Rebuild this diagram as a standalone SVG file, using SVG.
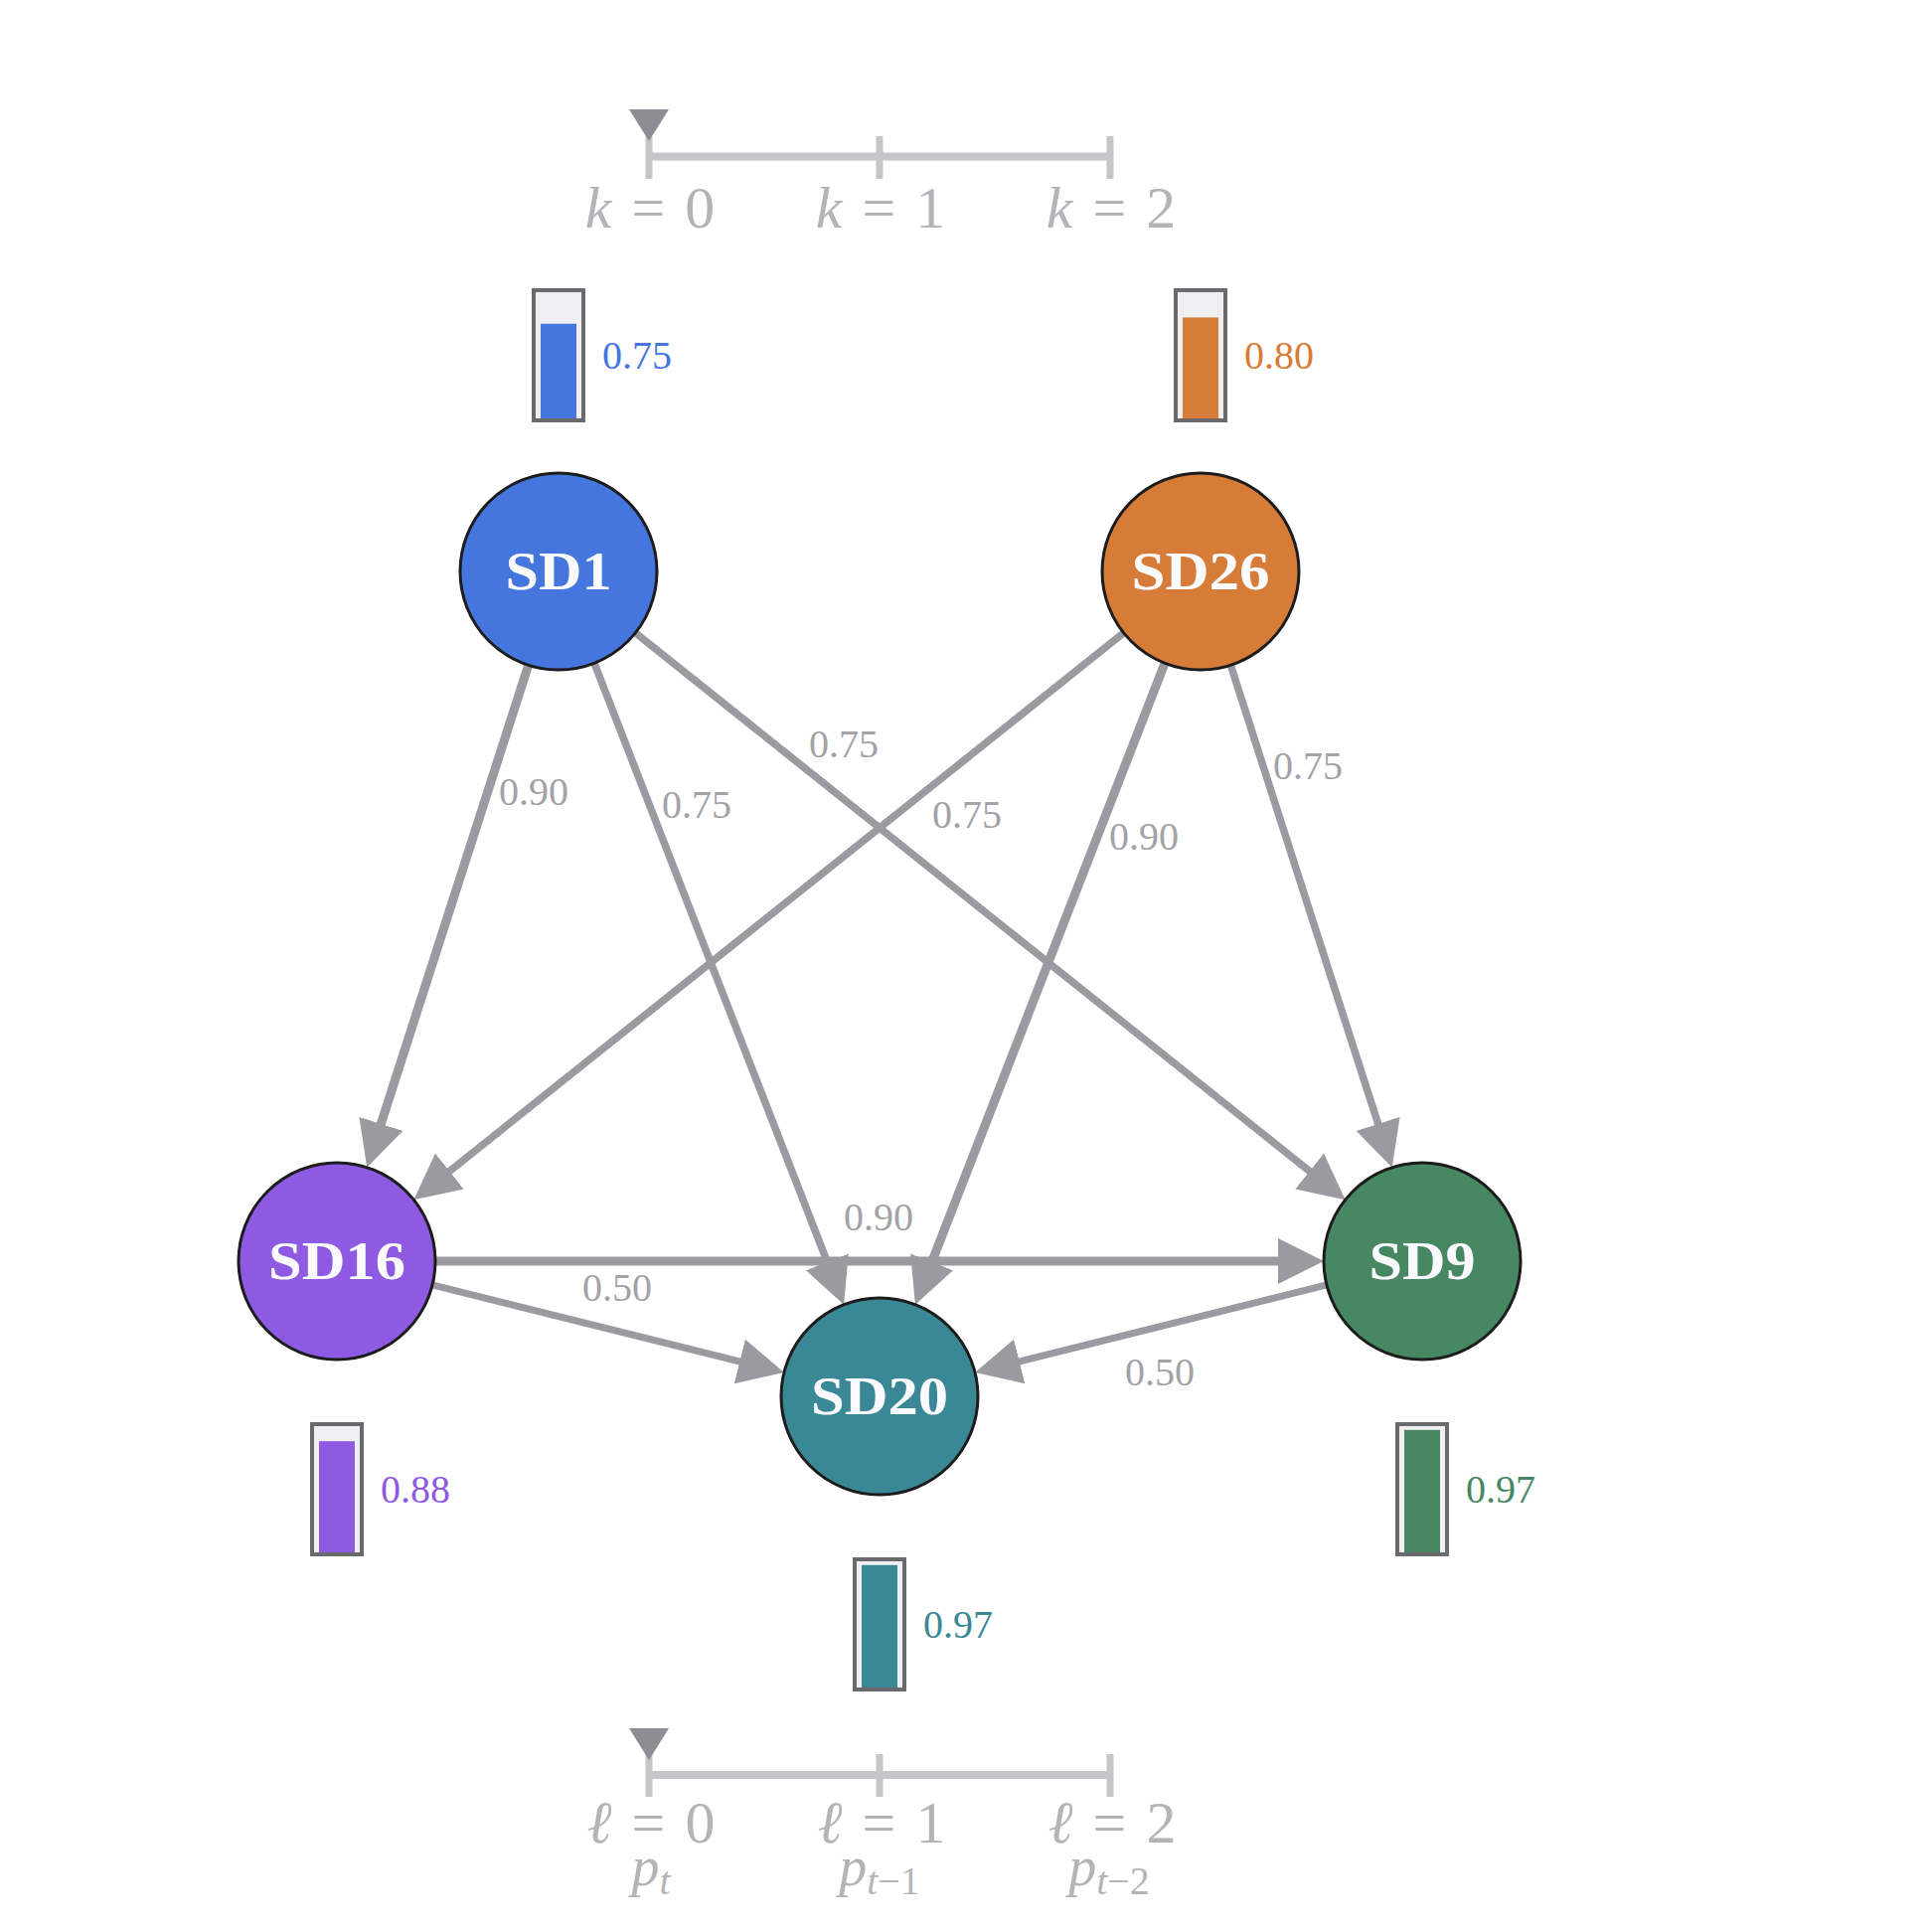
<svg xmlns="http://www.w3.org/2000/svg" width="1944" height="1942" viewBox="0 0 1944 1942">
<defs>
<style>
.edge{stroke:#9a9aa0;fill:none;stroke-linecap:butt}
.w90{stroke-width:9}
.w75{stroke-width:7.5}
.w50{stroke-width:7}
.elbl{font-family:"Liberation Serif","DejaVu Serif",serif;font-size:40px;fill:#a2a2a7;text-anchor:middle}
.lblbg{fill:#ffffff;fill-opacity:0.85}
.node{stroke:#1c1c1c;stroke-width:3}
.ntxt{font-family:"Liberation Serif","DejaVu Serif",serif;font-weight:bold;font-size:54px;fill:#fbfbff;text-anchor:middle}
.barbox{fill:#f0f0f3;stroke:#6a6a6e;stroke-width:4}
.bval{font-family:"Liberation Serif","DejaVu Serif",serif;font-size:40px}
.axis{stroke:#c6c6ca;stroke-width:8;fill:none}
.tick{stroke:#c6c6ca;stroke-width:7;fill:none}
.ptr{fill:#8d8d93}
.albl{font-family:"Liberation Serif","DejaVu Serif",serif;font-size:60px;fill:#b4b4b8;text-anchor:middle}
.plbl{font-family:"Liberation Serif","DejaVu Serif",serif;font-size:56px;fill:#b4b4b8;text-anchor:middle}
</style>
<marker id="ah" markerUnits="userSpaceOnUse" markerWidth="46" markerHeight="46" viewBox="0 0 46 46" refX="21" refY="23" orient="auto">
<path d="M0,0 L46,23 L0,46 z" fill="#9a9aa0"/>
</marker>
</defs>
<rect width="1944" height="1942" fill="#ffffff"/>

<g id="axis-top">
<line class="axis" x1="653" y1="157.5" x2="1117" y2="157.5"/>
<line class="tick" x1="653" y1="137" x2="653" y2="180"/>
<line class="tick" x1="885" y1="137" x2="885" y2="180"/>
<line class="tick" x1="1117" y1="137" x2="1117" y2="180"/>
<polygon class="ptr" points="633,110 673,110 653,142"/>
<text class="albl" x="654" y="229" word-spacing="5"><tspan font-style="italic">k</tspan> = 0</text>
<text class="albl" x="886" y="229" word-spacing="5"><tspan font-style="italic">k</tspan> = 1</text>
<text class="albl" x="1118" y="229" word-spacing="5"><tspan font-style="italic">k</tspan> = 2</text>
</g>

<g id="axis-bottom">
<line class="axis" x1="653" y1="1786" x2="1117" y2="1786"/>
<line class="tick" x1="653" y1="1765" x2="653" y2="1808"/>
<line class="tick" x1="885" y1="1765" x2="885" y2="1808"/>
<line class="tick" x1="1117" y1="1765" x2="1117" y2="1808"/>
<polygon class="ptr" points="633,1739 673,1739 653,1771"/>
<text class="albl" x="655" y="1854" word-spacing="5"><tspan font-style="italic">ℓ</tspan> = 0</text>
<text class="albl" x="887" y="1854" word-spacing="5"><tspan font-style="italic">ℓ</tspan> = 1</text>
<text class="albl" x="1119" y="1854" word-spacing="5"><tspan font-style="italic">ℓ</tspan> = 2</text>
<text class="plbl" x="655" y="1897"><tspan font-style="italic">p</tspan><tspan font-style="italic" font-size="40" dy="9">t</tspan></text>
<text class="plbl" x="885" y="1897"><tspan font-style="italic">p</tspan><tspan font-style="italic" font-size="40" dy="9">t</tspan><tspan font-size="40">−1</tspan></text>
<text class="plbl" x="1116" y="1897"><tspan font-style="italic">p</tspan><tspan font-style="italic" font-size="40" dy="9">t</tspan><tspan font-size="40">−2</tspan></text>
</g>

<g id="connectors">
<line class="edge w90" x1="531.4" y1="670.2" x2="376.9" y2="1150.9" marker-end="url(#ah)"/>
<line class="edge w75" x1="598.3" y1="668.2" x2="840.0" y2="1289.4" marker-end="url(#ah)"/>
<line class="edge w75" x1="640.1" y1="637.4" x2="1334.1" y2="1191.6" marker-end="url(#ah)"/>
<line class="edge w75" x1="1129.9" y1="637.4" x2="435.9" y2="1191.6" marker-end="url(#ah)"/>
<line class="edge w90" x1="1171.7" y1="668.2" x2="930.0" y2="1289.4" marker-end="url(#ah)"/>
<line class="edge w75" x1="1238.6" y1="670.2" x2="1393.1" y2="1150.9" marker-end="url(#ah)"/>
<line class="edge w90" x1="439" y1="1269" x2="1307" y2="1269" marker-end="url(#ah)"/>
<line class="edge w50" x1="436.0" y1="1293.2" x2="764.7" y2="1375.0" marker-end="url(#ah)"/>
<line class="edge w50" x1="1334.0" y1="1293.2" x2="1005.3" y2="1375.0" marker-end="url(#ah)"/>
<g id="edge-labels">
<rect class="lblbg" x="502" y="781" width="70" height="34"/><text class="elbl" x="537" y="810">0.90</text>
<rect class="lblbg" x="666" y="794" width="70" height="34"/><text class="elbl" x="701" y="823">0.75</text>
<rect class="lblbg" x="814" y="733" width="70" height="34"/><text class="elbl" x="849" y="762">0.75</text>
<rect class="lblbg" x="938" y="804" width="70" height="34"/><text class="elbl" x="973" y="833">0.75</text>
<rect class="lblbg" x="1116" y="826" width="70" height="34"/><text class="elbl" x="1151" y="855">0.90</text>
<rect class="lblbg" x="1281" y="755" width="70" height="34"/><text class="elbl" x="1316" y="784">0.75</text>
<rect class="lblbg" x="849" y="1209" width="70" height="30"/><text class="elbl" x="884" y="1238">0.90</text>
<rect class="lblbg" x="586" y="1280" width="70" height="34"/><text class="elbl" x="621" y="1309">0.50</text>
<rect class="lblbg" x="1132" y="1365" width="70" height="34"/><text class="elbl" x="1167" y="1394">0.50</text>
</g>
</g>

<g id="SD1">
<circle class="node" cx="562" cy="575" r="99" fill="#4576de"/>
<text class="ntxt" x="562" y="593" textLength="107" lengthAdjust="spacingAndGlyphs">SD1</text>
<rect class="barbox" x="537" y="292" width="50" height="131"/>
<rect x="544" y="325.75" width="36" height="95.25" fill="#4576de"/>
<text class="bval" x="606" y="371" fill="#4576de">0.75</text>
</g>

<g id="SD26">
<circle class="node" cx="1208" cy="575" r="99" fill="#d67b38"/>
<text class="ntxt" x="1208" y="593" textLength="139" lengthAdjust="spacingAndGlyphs">SD26</text>
<rect class="barbox" x="1183" y="292" width="50" height="131"/>
<rect x="1190" y="319.4" width="36" height="101.6" fill="#d67b38"/>
<text class="bval" x="1252" y="371" fill="#d67b38">0.80</text>
</g>

<g id="SD16">
<circle class="node" cx="339" cy="1269" r="99" fill="#8e5ae2"/>
<text class="ntxt" x="339" y="1287" textLength="138" lengthAdjust="spacingAndGlyphs">SD16</text>
<rect class="barbox" x="314" y="1433" width="50" height="131"/>
<rect x="321" y="1450.2" width="36" height="111.8" fill="#8e5ae2"/>
<text class="bval" x="383" y="1512" fill="#8e5ae2">0.88</text>
</g>

<g id="SD9">
<circle class="node" cx="1431" cy="1269" r="99" fill="#478863"/>
<text class="ntxt" x="1431" y="1287" textLength="107" lengthAdjust="spacingAndGlyphs">SD9</text>
<rect class="barbox" x="1406" y="1433" width="50" height="131"/>
<rect x="1413" y="1438.8" width="36" height="123.2" fill="#478863"/>
<text class="bval" x="1475" y="1512" fill="#478863">0.97</text>
</g>

<g id="SD20">
<circle class="node" cx="885" cy="1405" r="99" fill="#3a8796"/>
<text class="ntxt" x="885" y="1423" textLength="138" lengthAdjust="spacingAndGlyphs">SD20</text>
<rect class="barbox" x="860" y="1569" width="50" height="131"/>
<rect x="867" y="1574.8" width="36" height="123.2" fill="#3a8796"/>
<text class="bval" x="929" y="1648" fill="#3a8796">0.97</text>
</g>
</svg>
